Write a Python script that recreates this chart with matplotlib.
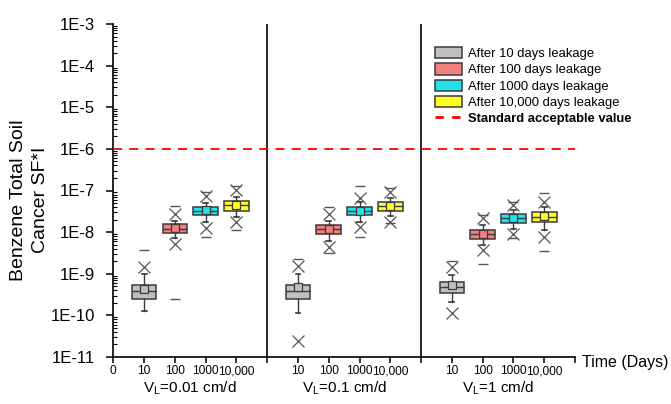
"""Benzene total soil cancer SF*I box plots for three leakage velocities."""

import numpy as np
import matplotlib
matplotlib.use('Agg')
import matplotlib.pyplot as plt
from matplotlib.patches import Patch
from matplotlib.lines import Line2D
from matplotlib.ticker import LogLocator, FuncFormatter, FixedLocator, NullFormatter

plt.rcParams['font.family'] = ['Liberation Sans', 'DejaVu Sans']

# Groups and times (order: 10, 100, 1000, 10,000 days for each velocity)
velocities = ['0.01', '0.1', '1']
times = ['10', '100', '1000', '10,000']
colors = ['#C0C0C0', '#F47F7F', '#22E3EA', '#FFFF22']
legend_labels = ['After 10 days leakage', 'After 100 days leakage',
                 'After 1000 days leakage', 'After 10,000 days leakage']
standard_value = 1e-6

# statistics, 12 values each (velocity-major)
v_max = [3.7e-9, 4.3e-8, 9.2e-8, 1.28e-7,
         2.2e-9, 4.06e-8, 1.28e-7, 1.12e-7,
         2.0e-9, 2.56e-8, 5.35e-8, 8.8e-8]
p99 = [1.47e-9, 2.7e-8, 7.3e-8, 1.02e-7,
       1.52e-9, 2.8e-8, 6.7e-8, 9.3e-8,
       1.42e-9, 2.13e-8, 4.46e-8, 5.35e-8]
whis_hi = [9.8e-10, 1.87e-8, 4.9e-8, 7.06e-8,
           9.8e-10, 1.87e-8, 5.35e-8, 6.7e-8,
           9.25e-10, 1.47e-8, 3.38e-8, 3.93e-8]
q3 = [5.5e-10, 1.53e-8, 4.06e-8, 5.56e-8,
      5.5e-10, 1.47e-8, 4.06e-8, 5.35e-8,
      6.2e-10, 1.12e-8, 2.66e-8, 2.98e-8]
median = [3.9e-10, 1.2e-8, 3.25e-8, 4.46e-8,
          3.76e-10, 1.16e-8, 3.25e-8, 4.2e-8,
          4.84e-10, 8.8e-9, 2.13e-8, 2.33e-8]
mean = [4.4e-10, 1.25e-8, 3.4e-8, 4.6e-8,
        4.7e-10, 1.2e-8, 3.3e-8, 4.3e-8,
        5.3e-10, 9.0e-9, 2.2e-8, 2.4e-8]
q1 = [2.5e-10, 9.6e-9, 2.52e-8, 3.25e-8,
      2.5e-10, 8.95e-9, 2.56e-8, 3.25e-8,
      3.36e-10, 6.7e-9, 1.62e-8, 1.74e-8]
whis_lo = [1.28e-10, 7.06e-9, 1.71e-8, 2.33e-8,
           1.15e-10, 6.18e-9, 1.77e-8, 2.43e-8,
           2.1e-10, 4.9e-9, 1.16e-8, 1.12e-8]
p1 = [np.nan, 5.06e-9, 1.23e-8, 1.77e-8,
      2.44e-11, 4.4e-9, 1.3e-8, 1.77e-8,
      1.11e-10, 3.7e-9, 8.95e-9, 7.46e-9]
v_min = [np.nan, 2.45e-10, 7.7e-9, 1.12e-8,
         np.nan, 3.2e-9, 7.7e-9, 1.62e-8,
         np.nan, 1.7e-9, 7.06e-9, 3.55e-9]

W, H, DPI = 671, 404, 100
fig = plt.figure(figsize=(W / DPI, H / DPI), dpi=DPI)
ax = fig.add_axes([113.3 / W, 1 - 357 / H, (575 - 113.3) / W, (357 - 24) / H])

positions = [1 + 5 * g + t for g in range(len(velocities)) for t in range(len(times))]
stats = []
for i in range(len(positions)):
    stats.append(dict(med=median[i], q1=q1[i], q3=q3[i], whislo=whis_lo[i],
                      whishi=whis_hi[i], mean=mean[i], fliers=[]))

edge = '#3a3a3a'
bp = ax.bxp(stats, positions=positions, widths=0.8, patch_artist=True,
            showmeans=True, showfliers=False, capwidths=0.16, manage_ticks=False,
            boxprops=dict(edgecolor=edge, linewidth=1.1),
            medianprops=dict(color=edge, linewidth=1.0),
            whiskerprops=dict(color=edge, linewidth=1.0),
            capprops=dict(color=edge, linewidth=1.2),
            meanprops=dict(marker='s', markersize=6, markeredgecolor=edge,
                           markeredgewidth=0.9),
            zorder=4)
for i, box in enumerate(bp['boxes']):
    c = colors[i % len(times)]
    box.set_facecolor(c)
    bp['means'][i].set_markerfacecolor(c)

# 1% / 99% crosses and min / max dashes
ax.plot(positions, p99, 'x', color='#555555', markersize=8, mew=0.9, ls='', zorder=5)
ax.plot(positions, p1, 'x', color='#555555', markersize=8, mew=0.9, ls='', zorder=5)
ax.plot(positions, v_max, '_', color='#555555', markersize=7, mew=1.0, ls='', zorder=5)
ax.plot(positions, v_min, '_', color='#555555', markersize=7, mew=1.0, ls='', zorder=5)

# standard acceptable value and group separators
ax.axhline(standard_value, color='red', ls=(0, (5, 4)), lw=1.3, zorder=3)
for xs in [5, 10]:
    ax.axvline(xs, color='black', lw=1.2, zorder=2)

ax.set_yscale('log')
ax.set_ylim(1e-11, 1e-3)
ax.set_xlim(0, 15)
ax.yaxis.set_major_locator(FixedLocator([10.0 ** k for k in range(-11, -2)]))
ax.yaxis.set_major_formatter(FuncFormatter(lambda v, p: f'1E{int(round(np.log10(v)))}'))
ax.yaxis.set_minor_locator(LogLocator(base=10, subs=np.arange(2, 10), numticks=20))
ax.yaxis.set_minor_formatter(NullFormatter())
ax.tick_params(axis='y', which='major', direction='out', length=5, width=1.1,
               labelsize=12, pad=8)
ax.tick_params(axis='y', which='minor', direction='in', length=3, width=0.8)

xtick_labels = ['0']
for g in range(len(velocities)):
    xtick_labels += times + ['']
ax.xaxis.set_major_locator(FixedLocator(np.arange(16)))
ax.set_xticklabels(xtick_labels)
ax.tick_params(axis='x', direction='out', length=4, width=1.1, labelsize=8.6, pad=2)

for s in ['top', 'right']:
    ax.spines[s].set_visible(False)
for s in ['left', 'bottom']:
    ax.spines[s].set_linewidth(1.2)

for g, v in enumerate(velocities):
    ax.text(2.5 + 5 * g, -0.093, r'V$_\mathregular{L}$=' + v + ' cm/d',
            transform=ax.get_xaxis_transform(), ha='center', va='center', fontsize=11)
ax.text(1.015, -0.018, 'Time (Days)', transform=ax.transAxes,
        ha='left', va='center', fontsize=11.5)

fig.text(29.5 / W, 0.505, 'Benzene Total Soil\nCancer SF*I', rotation=90,
         ha='center', va='center', multialignment='center', fontsize=14,
         linespacing=1.45)

handles = [Patch(facecolor=c, edgecolor=edge, linewidth=1.1) for c in colors]
handles.append(Line2D([0], [0], color='red', ls=(0, (3, 3)), lw=2))
labels = legend_labels + ['Standard acceptable value']
leg = fig.legend(handles, labels, loc='upper left', bbox_to_anchor=(435 / W, 1 - 47 / H),
                 frameon=False, fontsize=9.4, borderpad=0, borderaxespad=0,
                 handlelength=2.1, handleheight=0.95, handletextpad=0.45,
                 labelspacing=0.24)
leg.get_texts()[-1].set_fontweight('bold')

fig.savefig('out.png', dpi=DPI)
